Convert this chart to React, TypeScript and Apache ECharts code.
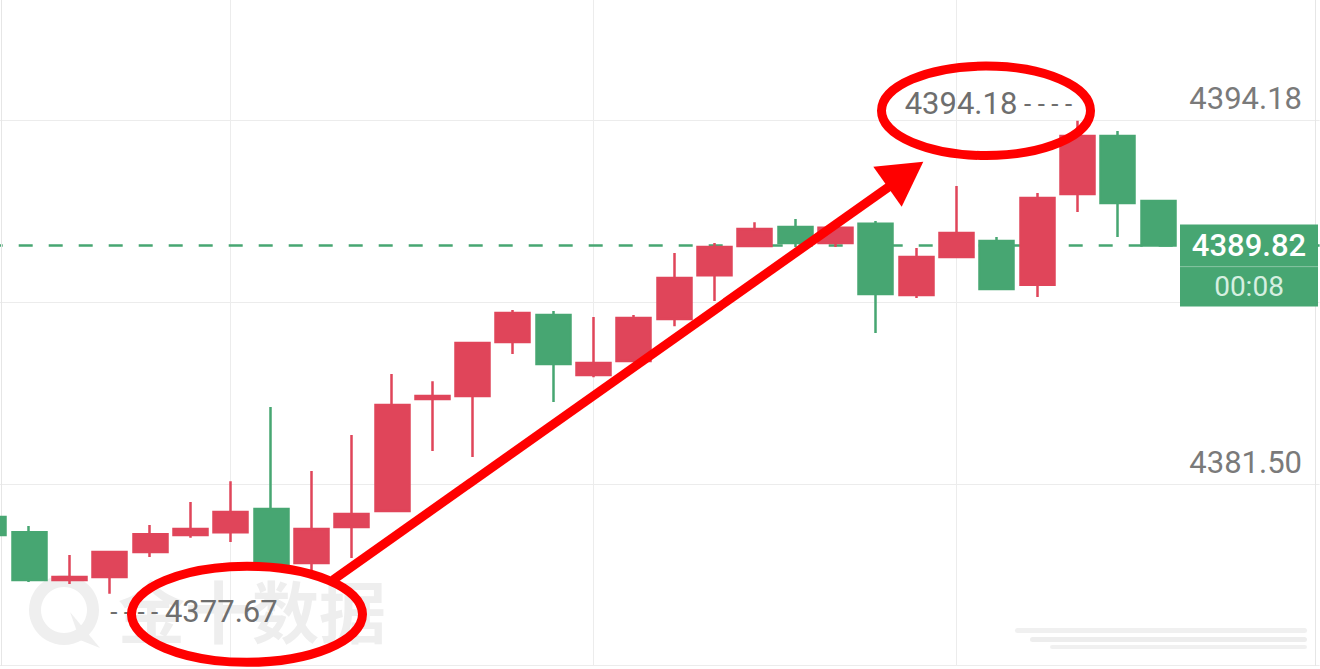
import React, { useEffect, useRef } from 'react';
import * as echarts from 'echarts';

// ---------- data ----------
const categories = [
  '1', '2', '3', '4', '5', '6', '7', '8', '9', '10',
  '11', '12', '13', '14', '15', '16', '17', '18', '19', '20',
  '21', '22', '23', '24', '25', '26', '27', '28', '29', '30',
  '31', '32', '33', '34',
];

const opens = [
  4380.35, 4379.82, 4378.15, 4378.25, 4379.13, 4379.72, 4379.82, 4380.63, 4378.74, 4380.0,
  4380.56, 4384.47, 4384.57, 4386.46, 4387.4, 4385.3, 4385.79, 4387.26, 4388.79, 4389.81,
  4390.47, 4389.91, 4390.58, 4388.1, 4389.42, 4389.98, 4388.45, 4391.62, 4393.65, 4391.38,
];
const closes = [
  4379.72, 4378.15, 4378.25, 4379.13, 4379.75, 4379.93, 4380.52, 4378.67, 4379.93, 4380.45,
  4384.26, 4384.57, 4386.42, 4387.47, 4385.69, 4385.72, 4387.29, 4388.69, 4389.77, 4390.4,
  4389.91, 4390.44, 4388.13, 4389.42, 4390.26, 4388.31, 4391.48, 4393.65, 4391.31, 4389.82,
];
const lows = [
  4379.65, 4378.08, 4378.01, 4377.67, 4378.95, 4379.62, 4379.48, 4378.57, 4378.5, 4378.92,
  4380.52, 4382.65, 4382.44, 4386.04, 4384.36, 4385.23, 4385.76, 4387.01, 4387.89, 4389.77,
  4389.77, 4389.77, 4386.77, 4387.99, 4389.39, 4388.27, 4388.03, 4390.99, 4390.12, 4389.8,
];
const highs = [
  4380.42, 4380.03, 4379.02, 4379.16, 4380.07, 4380.87, 4381.6, 4384.19, 4381.95, 4383.21,
  4385.34, 4385.09, 4386.45, 4387.57, 4387.54, 4387.33, 4387.4, 4389.56, 4389.91, 4390.64,
  4390.75, 4390.46, 4390.68, 4389.74, 4391.9, 4390.12, 4391.66, 4394.18, 4393.82, 4391.41,
];

const yMin = 4375.16;
const yMax = 4400.52;
const yStep = 6.34;
const countdown = '00:08';
const watermark = '金十数据';

// ---------- styles ----------
const RED = '#E0455A';
const GREEN = '#47A672';
const GRID = '#ececec';
const LABEL = '#7a7a7a';
const MARK = '#ff0000';
const FONT = "Roboto, 'Noto Sans', sans-serif";
// the chart box is larger than the window and shifted up/left, so that the
// plot area can start outside the visible page
const OX = 40;
const OY = 80;

export default function App() {
  const ref = useRef<HTMLDivElement>(null);

  useEffect(() => {
    const el = ref.current;
    if (!el) return;
    const chart = echarts.init(el, undefined, { renderer: 'svg' });

    const ohlc = opens.map((o, i) => [o, closes[i], lows[i], highs[i]]);
    const maxHigh = Math.max(...highs);
    const minLow = Math.min(...lows);
    const maxIdx = highs.indexOf(maxHigh);
    const minIdx = lows.indexOf(minLow);
    const lastIdx = closes.length - 1;
    const last = closes[lastIdx];

    const labelRich = {
      v: { color: '#6e6e6e', fontFamily: FONT, fontSize: 31 },
      d: { color: '#6e6e6e', fontFamily: FONT, fontSize: 26 },
    };

    const option: any = {
      animation: false,
      backgroundColor: '#ffffff',
      grid: { left: OX - 11.3, right: 0.4, top: OY - 60.95, bottom: 3.35, show: false },
      xAxis: {
        type: 'category',
        data: categories,
        boundaryGap: false,
        axisLine: { show: false },
        axisTick: { show: false },
        axisLabel: { show: false },
        splitLine: {
          show: true,
          interval: (idx: number) => idx % 9 === 6 && idx < 33,
          lineStyle: { color: GRID, width: 1 },
        },
      },
      yAxis: {
        type: 'value',
        position: 'right',
        min: yMin,
        max: yMax,
        interval: yStep,
        axisLine: { show: false },
        axisTick: { show: false },
        splitLine: { show: true, lineStyle: { color: GRID, width: 1 } },
        axisLabel: {
          inside: true,
          margin: 17.6,
          showMinLabel: false,
          showMaxLabel: false,
          color: LABEL,
          fontFamily: FONT,
          fontSize: 31,
          verticalAlign: 'bottom',
          lineHeight: 44,
          // the label that falls under the last-price tag is covered in the picture
          formatter: (v: number) => (Math.abs(v - last) < 3 ? '' : v.toFixed(2)),
        },
      },
      series: [
        {
          type: 'candlestick',
          data: ohlc,
          barWidth: 34.5,
          itemStyle: {
            color: RED,
            color0: GREEN,
            borderColor: RED,
            borderColor0: GREEN,
            borderWidth: 2.5,
          },
          markLine: {
            z: 1,
            silent: true,
            symbol: ['none', 'none'],
            label: { show: false },
            lineStyle: { color: GREEN, type: [14, 16], width: 2.5, opacity: 1 },
            data: [{ yAxis: last }],
          },
          markPoint: {
            silent: true,
            symbol: 'circle',
            symbolSize: 1,
            itemStyle: { color: 'rgba(0,0,0,0)' },
            data: [
              {
                coord: [maxIdx, maxHigh],
                value: maxHigh,
                label: {
                  show: true,
                  position: 'left',
                  distance: 5,
                  offset: [0, -17],
                  formatter: () => `{v|${maxHigh.toFixed(2)}}  {d|- - - -}`,
                  rich: labelRich,
                },
              },
              {
                coord: [minIdx, minLow],
                value: minLow,
                label: {
                  show: true,
                  position: 'right',
                  distance: 0,
                  offset: [0, 18],
                  formatter: () => `{d|- - - -}  {v|${minLow.toFixed(2)}}`,
                  rich: labelRich,
                },
              },
            ],
          },
        },
      ],
    };

    chart.setOption(option);
    const p = chart.convertToPixel({ gridIndex: 0 }, [lastIdx, last]) as number[];
    const py = p[1] - OY; // page coordinates

    const children: any[] = [
      // watermark (behind the series)
      {
        type: 'ring',
        z: 1,
        silent: true,
        shape: { cx: 64, cy: 610, r: 35, r0: 23 },
        style: { fill: '#efefef' },
      },
      {
        type: 'polygon',
        z: 1,
        silent: true,
        shape: { points: [[70, 612], [100, 648], [80, 640]] },
        style: { fill: '#efefef' },
      },
      {
        type: 'text',
        z: 1,
        silent: true,
        x: 118,
        y: 608,
        style: {
          text: watermark,
          fill: '#eeeeee',
          font: "bold 67px 'Noto Sans CJK SC', sans-serif",
          verticalAlign: 'middle',
        },
      },
      // blurred mark bottom right
      { type: 'rect', z: 1, silent: true, shape: { x: 1015, y: 628, width: 292, height: 5, r: 2.5 }, style: { fill: '#ececec', opacity: 0.8 } },
      { type: 'rect', z: 1, silent: true, shape: { x: 1030, y: 637, width: 277, height: 5, r: 2.5 }, style: { fill: '#e8e8e8', opacity: 0.8 } },
      { type: 'rect', z: 1, silent: true, shape: { x: 1050, y: 645, width: 257, height: 4, r: 2 }, style: { fill: '#ececec', opacity: 0.8 } },
      // frame lines
      { type: 'line', z: 1, silent: true, shape: { x1: 1.5, y1: 0, x2: 1.5, y2: 666 }, style: { stroke: '#e6e6e6', lineWidth: 1 } },
      { type: 'line', z: 1, silent: true, shape: { x1: 1315.5, y1: 0, x2: 1315.5, y2: 666 }, style: { stroke: '#e6e6e6', lineWidth: 1 } },
      // price tag
      {
        type: 'rect',
        z: 50,
        silent: true,
        shape: { x: 1180, y: py - 21, width: 138, height: 82 },
        style: { fill: GREEN },
      },
      {
        type: 'line',
        z: 51,
        silent: true,
        shape: { x1: 1180, y1: py + 21, x2: 1318, y2: py + 21 },
        style: { stroke: 'rgba(255,255,255,0.35)', lineWidth: 1 },
      },
      {
        type: 'text',
        z: 52,
        silent: true,
        x: 1249,
        y: py,
        style: {
          text: last.toFixed(2),
          fill: '#ffffff',
          font: `500 31px ${FONT}`,
          align: 'center',
          verticalAlign: 'middle',
        },
      },
      {
        type: 'text',
        z: 52,
        silent: true,
        x: 1249,
        y: py + 41,
        style: {
          text: countdown,
          fill: '#d6efe0',
          font: `28px ${FONT}`,
          align: 'center',
          verticalAlign: 'middle',
        },
      },
      // red annotations
      {
        type: 'ellipse',
        z: 100,
        silent: true,
        shape: { cx: 986, cy: 110.8, rx: 104.5, ry: 44.7 },
        style: { fill: 'none', stroke: MARK, lineWidth: 9 },
      },
      {
        type: 'ellipse',
        z: 100,
        silent: true,
        shape: { cx: 247, cy: 614.3, rx: 115.5, ry: 48 },
        style: { fill: 'none', stroke: MARK, lineWidth: 9 },
      },
      {
        type: 'line',
        z: 100,
        silent: true,
        shape: { x1: 333, y1: 580, x2: 890, y2: 186 },
        style: { stroke: MARK, lineWidth: 9 },
      },
      {
        type: 'polygon',
        z: 100,
        silent: true,
        shape: { points: [[923.3, 161.7], [873.3, 166.7], [901.7, 206.7]] },
        style: { fill: MARK },
      },
    ];

    chart.setOption({
      graphic: [{ type: 'group', x: OX, y: OY, children }],
    });

    return () => chart.dispose();
  }, []);

  return (
    <div
      ref={ref}
      style={{ position: 'fixed', left: -OX, top: -OY, width: 1320 + OX, height: 669 + OY }}
    />
  );
}
